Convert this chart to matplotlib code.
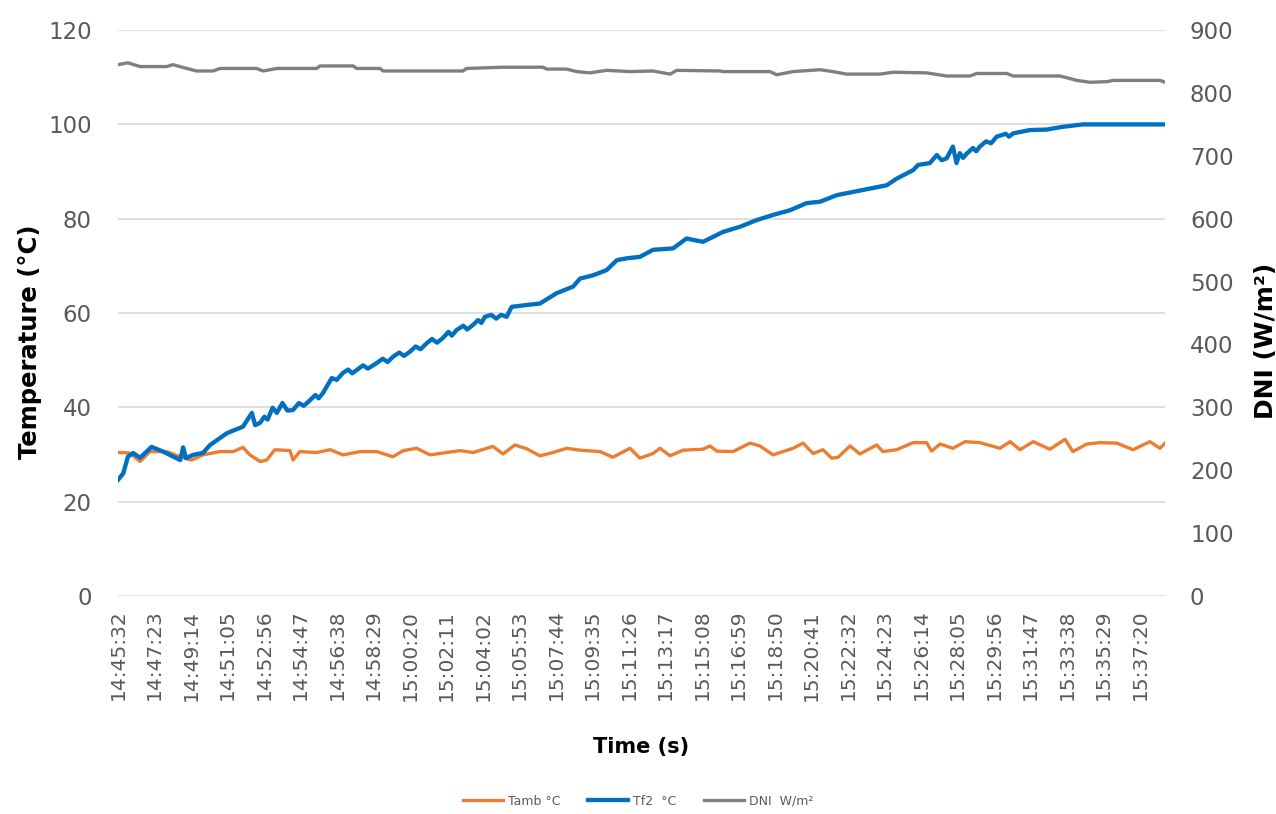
import matplotlib.pyplot as plt

plt.rcParams["font.family"] = ["DejaVu Sans"]

# category labels shown on the time axis (one every 111 samples)
time_labels = ["14:45:32", "14:47:23", "14:49:14", "14:51:05", "14:52:56", "14:54:47",
               "14:56:38", "14:58:29", "15:00:20", "15:02:11", "15:04:02", "15:05:53",
               "15:07:44", "15:09:35", "15:11:26", "15:13:17", "15:15:08", "15:16:59",
               "15:18:50", "15:20:41", "15:22:32", "15:24:23", "15:26:14", "15:28:05",
               "15:29:56", "15:31:47", "15:33:38", "15:35:29", "15:37:20"]
tick_step = 111
n_samples = 3184

# Tf2 (deg C), sample index -> value
tf2_t = [0, 16, 30, 46, 67, 102, 137, 189, 198, 207, 228, 258, 280, 331, 380, 407, 417,
         432, 445, 455, 470, 483, 500, 515, 532, 550, 565, 584, 600, 610, 623, 650, 665,
         684, 700, 712, 726, 745, 760, 787, 805, 820, 836, 855, 870, 888, 905, 920, 939,
         955, 970, 988, 1005, 1015, 1030, 1050, 1062, 1080, 1095, 1105, 1116, 1135, 1150,
         1165, 1182, 1197, 1243, 1283, 1334, 1384, 1405, 1445, 1486, 1517, 1547,
         1587, 1627, 1688, 1729, 1749, 1779, 1840, 1892, 1942, 1992, 2044, 2094, 2135,
         2186, 2266, 2338, 2368, 2418, 2433, 2469, 2490, 2505, 2520, 2539, 2550, 2560,
         2570, 2581, 2600, 2610, 2621, 2640, 2655, 2672, 2700, 2710, 2722, 2773, 2824,
         2874, 2935, 3184]
tf2 = [24.6, 26.0, 29.5, 30.3, 29.3, 31.6, 30.6, 28.8, 31.5, 29.2, 29.9, 30.3, 32.0, 34.5,
       35.9, 38.8, 36.2,
       36.7, 38.0, 37.4, 39.9, 38.8, 40.9, 39.3, 39.4, 40.9, 40.3, 41.5, 42.6, 41.9,
       43.0, 46.2, 45.8,
       47.3, 48.0, 47.2, 47.9, 48.9, 48.2, 49.4, 50.3, 49.6, 50.7, 51.6, 50.9, 51.8, 52.9,
       52.3, 53.6,
       54.5, 53.7, 54.7, 56.0, 55.2, 56.4, 57.3, 56.5, 57.5, 58.5, 57.9, 59.2, 59.6, 58.8,
       59.6, 59.2, 61.3, 61.7, 62.0, 64.2, 65.6, 67.3, 68.0, 69.1, 71.2, 71.6,
       71.9, 73.4, 73.7, 75.8, 75.5, 75.1, 77.2, 78.3, 79.7, 80.8, 81.8, 83.3, 83.6,
       85.0, 86.1, 87.1, 88.5, 90.3, 91.4, 91.8, 93.5, 92.4, 92.8, 95.3, 91.8, 93.9,
       92.9, 93.8, 95.0, 94.3, 95.3, 96.4, 96.0, 97.4, 98.0, 97.4, 98.1, 98.8, 98.9,
       99.5, 100.0, 100.0]

# Tamb (deg C)
tamb_t = [0, 36, 67, 97, 148, 189, 224, 258, 310, 350, 380, 401, 432, 452, 477, 523, 532,
          553, 604, 645, 684, 736, 787, 836, 867, 908, 949, 988, 1040, 1080, 1140, 1171,
          1207, 1243, 1283, 1323, 1364, 1405, 1466, 1505, 1557, 1587, 1627, 1648, 1679,
          1718, 1779, 1800, 1821, 1870, 1922, 1952, 1992, 2022, 2053, 2083, 2114, 2144,
          2170, 2190, 2226, 2256, 2307, 2326, 2368, 2418, 2459, 2474, 2500, 2539, 2576,
          2621, 2682, 2713, 2743, 2783, 2834, 2880, 2904, 2946, 2986, 3037, 3087, 3138,
          3169, 3184]
tamb = [30.4, 30.3, 28.5, 30.6, 30.6, 29.5, 28.8, 29.9, 30.6, 30.6, 31.5, 29.9, 28.5, 28.8,
        31.0, 30.8, 28.8, 30.6, 30.4, 31.0, 29.9, 30.6, 30.6, 29.5, 30.8, 31.3, 29.9, 30.3,
        30.8, 30.4, 31.7, 30.1, 32.0, 31.2, 29.7, 30.4, 31.3, 30.9, 30.6, 29.4, 31.3, 29.2,
        30.2, 31.3, 29.7, 30.9, 31.1, 31.8, 30.7, 30.6, 32.4, 31.8, 29.9, 30.6, 31.3, 32.4,
        30.2, 31.0, 29.2, 29.4, 31.8, 30.1, 32.0, 30.6, 31.0, 32.5, 32.5, 30.7, 32.2, 31.3,
        32.7, 32.5, 31.3, 32.7, 31.0, 32.7, 31.1, 33.2, 30.6, 32.2, 32.5, 32.4, 31.0, 32.7,
        31.3, 32.4]

# DNI (W/m2)
dni_t = [0, 30, 67, 148, 167, 209, 239, 289, 310, 422, 441, 483, 604, 614, 715, 726, 797,
         806, 1049, 1060, 1171, 1292, 1304, 1364, 1395, 1435, 1486, 1557, 1627, 1679, 1699,
         1831, 1840, 1983, 2003, 2053, 2135, 2174, 2216, 2317, 2357, 2459, 2520, 2591, 2611,
         2703, 2722, 2865, 2916, 2956, 3007, 3026, 3169, 3184]
dni = [845, 848, 842, 842, 845, 839, 835, 835, 839, 839, 835, 839, 839, 843, 843, 839, 839,
       835, 835, 839, 841, 841, 838, 838, 834, 832, 836, 834, 835, 830, 836, 835, 834, 834,
       829, 834, 837, 834, 830, 830, 833, 832, 827, 827, 831, 831, 827, 827, 820, 817, 818,
       820, 820, 817]

grey_txt = "#595959"

fig = plt.figure(figsize=(12.76, 8.14), dpi=100)
ax = fig.add_axes([0.0925, 0.268, 0.8205, 0.695])
ax2 = ax.twinx()

l1, = ax.plot(tamb_t, tamb, color="#ED7D31", lw=2.4, label="Tamb °C")
l2, = ax.plot(tf2_t, tf2, color="#0070C0", lw=3.1, label="Tf2  °C")
l3, = ax2.plot(dni_t, dni, color="#7F7F7F", lw=2.4, label="DNI  W/m²")

ax.set_xlim(0, n_samples)
ax.set_ylim(0, 120)
ax.set_yticks(range(0, 121, 20))
ax2.set_ylim(0, 900)
ax2.set_yticks(range(0, 901, 100))

ax.set_xticks([i * tick_step for i in range(len(time_labels))])
ax.set_xticklabels(time_labels, rotation=90)

ax.grid(axis="y", color="#D9D9D9", lw=1.2)
ax.set_axisbelow(True)
for a in (ax, ax2):
    for s in a.spines.values():
        s.set_visible(False)
ax.tick_params(axis="x", length=0, labelsize=14.5, labelcolor=grey_txt, pad=10)
ax.tick_params(axis="y", length=0, labelsize=16.5, labelcolor=grey_txt, pad=19)
ax2.tick_params(axis="y", length=0, labelsize=16.5, labelcolor=grey_txt, pad=18)

ax.set_ylabel("Temperature (°C)", fontsize=17.5, fontweight="bold")
ax.yaxis.set_label_coords(-0.073, 0.45)
ax2.set_ylabel("DNI (W/m²)", fontsize=18, fontweight="bold")
ax2.yaxis.set_label_coords(1.085, 0.45)
ax.set_xlabel("Time (s)", fontsize=15, fontweight="bold", labelpad=26)

fig.legend(handles=[l1, l2, l3], loc="lower center", bbox_to_anchor=(0.5, -0.006),
           ncol=3, frameon=False, fontsize=9, labelcolor=grey_txt,
           handlelength=3.2, handletextpad=0.4, columnspacing=2.2)

fig.savefig("out.png", dpi=100)
